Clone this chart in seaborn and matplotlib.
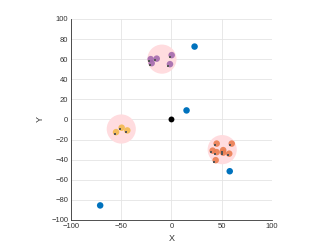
import matplotlib.pyplot as plt
import pandas as pd
import seaborn as sns
from matplotlib.patches import Circle

sns.set_theme(style="white")
plt.rcParams['font.family'] = ['Liberation Sans', 'DejaVu Sans']

# cluster members
purple_x = [-20.7, -14.7, 0.2, -1.5, -19.7]
purple_y = [60.0, 60.5, 64.0, 55.0, 56.0]
yellow_x = [-55.2, -49.6, -44.0]
yellow_y = [-12.6, -8.2, -10.9]
red_x = [45.0, 60.0, 41.0, 45.0, 51.5, 51.5, 57.5, 44.0]
red_y = [-24.0, -24.0, -31.0, -32.5, -30.5, -33.0, -34.0, -40.5]

# cluster regions
centers_x = [-9.5, -50.0, 50.5]
centers_y = [60.0, -9.5, -30.0]
radius = 14.5

# other points
blue_x = [23.0, 15.0, 58.0, -71.0]
blue_y = [72.5, 9.0, -51.5, -85.5]
origin_x = [0.0]
origin_y = [0.0]

df = pd.DataFrame({
    'X': purple_x + yellow_x + red_x,
    'Y': purple_y + yellow_y + red_y,
    'cluster': ['p'] * len(purple_x) + ['y'] * len(yellow_x) + ['r'] * len(red_x),
})
pal = {'p': '#a36aae', 'y': '#f2b94e', 'r': '#ea7d50'}

fig = plt.figure(figsize=(3.32, 2.49), dpi=100)
ax = fig.add_axes([0.214, 0.1165, 0.605, 0.8075])

for cx, cy in zip(centers_x, centers_y):
    ax.add_patch(Circle((cx, cy), radius, facecolor='#ffdcdf', edgecolor='none', zorder=1))

sns.scatterplot(data=df, x='X', y='Y', hue='cluster', palette=pal, s=22,
                edgecolor='none', alpha=0.9, legend=False, ax=ax, zorder=3)
sns.scatterplot(x=[v - 1.5 for v in df['X']], y=[v - 1.5 for v in df['Y']], color='#555555',
                marker='s', s=2, edgecolor='none', ax=ax, zorder=4)
sns.scatterplot(x=blue_x, y=blue_y, color='#0072BD', s=22, edgecolor='none', ax=ax, zorder=3)
sns.scatterplot(x=origin_x, y=origin_y, color='black', s=18, edgecolor='none', ax=ax, zorder=3)

ax.set_xlim(-100, 100)
ax.set_ylim(-100, 100)
ax.set_xticks([-100, -50, 0, 50, 100])
ax.set_yticks(range(-100, 101, 20))
ax.grid(True, color='#e4e4e4', linewidth=0.6)
ax.set_axisbelow(True)
for s in ['top', 'right']:
    ax.spines[s].set_visible(False)
for s in ['left', 'bottom']:
    ax.spines[s].set_color('#333333')
    ax.spines[s].set_linewidth(0.6)
ax.tick_params(direction='in', length=2.5, width=0.5, color='#333333', labelsize=5.5,
               labelcolor='#333333', pad=2)
ax.set_xlabel('X', fontsize=6.5, color='#333333', labelpad=3)
ax.set_ylabel('Y', fontsize=6.5, color='#333333', labelpad=5)

fig.savefig('out.png', dpi=100)
